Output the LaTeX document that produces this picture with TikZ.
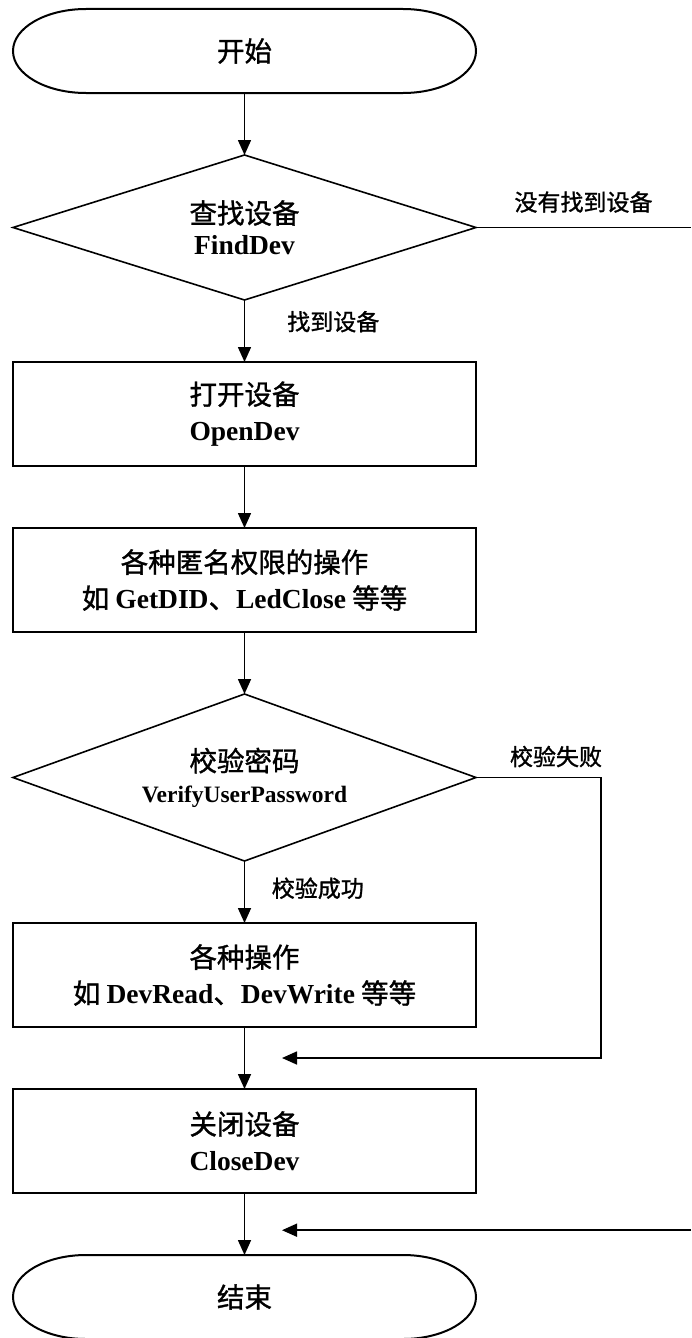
\documentclass[tikz,border=0pt]{standalone}
\usepackage{fontspec}
\setmainfont{Liberation Serif}
\newfontfamily\cjk[FakeBold=1.2]{Noto Sans CJK SC}
\usetikzlibrary{arrows.meta,positioning,shapes.geometric,calc}
\newcommand{\en}[1]{{\rmfamily\bfseries #1}}
\newcommand{\capsule}[1]{%
  \draw[outline] ([xshift=73pt]#1.north west) -- ([xshift=-73pt]#1.north east)
    arc[start angle=90,end angle=-90,x radius=73pt,y radius=42pt]
    -- ([xshift=73pt]#1.south west)
    arc[start angle=270,end angle=90,x radius=73pt,y radius=42pt] -- cycle;}
\tikzset{
  terminal/.style={
    rectangle,
    minimum width=463pt,
    minimum height=84pt,
    inner sep=0pt,
    outer sep=0pt,
    font=\cjk\fontsize{27.5}{33}\selectfont
  },
  process/.style={
    rectangle,
    draw,
    line width=2pt,
    minimum width=463pt,
    minimum height=104pt,
    align=center,
    outer sep=0pt,
    font=\cjk\fontsize{27.5}{36}\selectfont
  },
  decision/.style={
    diamond,
    aspect=3,
    draw,
    line width=1.6pt,
    minimum width=463pt,
    align=center,
    inner sep=0pt,
    outer sep=0pt,
    font=\cjk\fontsize{27.5}{31}\selectfont
  },
  branch/.style={inner sep=0pt,font=\cjk\fontsize{23}{27}\selectfont},
  outline/.style={line width=2pt},
  link/.style={line width=1.6pt},
  arrow/.style={-{Triangle[length=15pt,width=13pt]},line width=1.6pt}
}
\begin{document}
\begin{tikzpicture}[x=1pt,y=1pt,node distance=62pt]
  \useasboundingbox (0,0) rectangle (691,-1338);
  \coordinate (rightedge) at (691,0);
  \coordinate (failcol) at (601,0);

  \node[terminal] (start) at (244.5,-51) {开始};
  \node[decision,below=of start,minimum height=145pt] (find) {查找设备\\\en{FindDev}};
  \node[process,below=of find] (open) {打开设备\\\en{OpenDev}};
  \node[process,below=of open] (anon) {各种匿名权限的操作\\如 \en{GetDID}、\en{LedClose} 等等};
  \node[decision,below=of anon,minimum height=167pt] (verify) {校验密码\\{\fontsize{23.5}{31}\selectfont\en{VerifyUserPassword}}};
  \node[process,below=of verify] (ops) {各种操作\\如 \en{DevRead}、\en{DevWrite} 等等};
  \node[process,below=of ops] (close) {关闭设备\\\en{CloseDev}};
  \node[terminal,below=of close] (stop) {结束};

  \capsule{start}
  \capsule{stop}

  \coordinate (failjoin) at ($(ops.south)!0.5!(close.north)+(37.5,0)$);
  \coordinate (nodevjoin) at ($(close.south)!0.6!(stop.north)+(37.5,0)$);

  \draw[arrow] (start) -- (find);
  \draw[arrow] (find) -- node[branch,right=42pt,pos=0.35] {找到设备} (open);
  \draw[link] (find.east) -- node[branch,above=14pt,midway] {没有找到设备} (find.east -| rightedge);
  \draw[arrow] (open) -- (anon);
  \draw[arrow] (anon) -- (verify);
  \draw[arrow] (verify) -- node[branch,right=26.5pt,pos=0.44] {校验成功} (ops);
  \draw[arrow] (verify.east) -- node[branch,above=9.5pt,pos=0.64] {校验失败} (verify.east -| failcol) |- (failjoin);
  \draw[arrow] (ops) -- (close);
  \draw[arrow] (close) -- (stop);
  \draw[arrow] (nodevjoin -| rightedge) -- (nodevjoin);
\end{tikzpicture}
\end{document}
